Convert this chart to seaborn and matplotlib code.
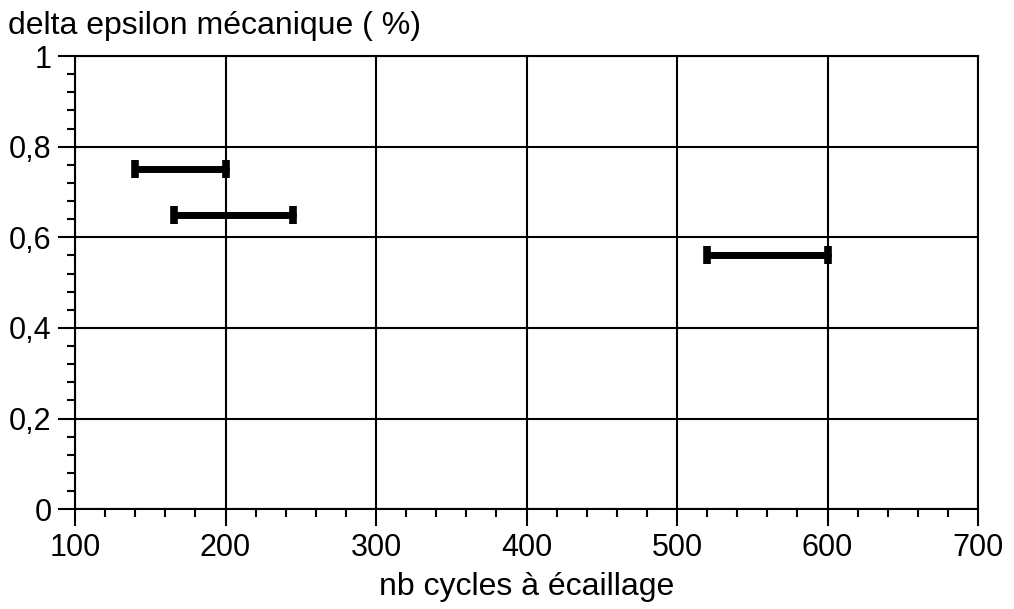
import numpy as np
import pandas as pd
import matplotlib
matplotlib.use("Agg")
import matplotlib.pyplot as plt
import seaborn as sns
from matplotlib.ticker import MultipleLocator, FuncFormatter

# data: start / end of cycles to spalling, delta epsilon (%)
essais = ["A", "B", "C"]
cycles_min = [140, 166, 520]
cycles_max = [200, 245, 600]
delta_eps = [0.75, 0.65, 0.56]

df = pd.DataFrame({
    "essai": essais * 2,
    "cycles": cycles_min + cycles_max,
    "delta": delta_eps * 2,
})

sns.set_style("white")
plt.rcParams["font.family"] = ["Liberation Sans", "DejaVu Sans"]
plt.rcParams["text.color"] = "black"
plt.rcParams["axes.labelcolor"] = "black"
plt.rcParams["xtick.color"] = "black"
plt.rcParams["ytick.color"] = "black"

fig = plt.figure(figsize=(10.14, 6.09), dpi=100)
ax = fig.add_axes([0.074, 0.164, 0.8905, 0.744])

# interval bars
sns.lineplot(data=df, x="cycles", y="delta", units="essai", estimator=None,
             color="black", linewidth=5, ax=ax, zorder=3)
# end caps
sns.scatterplot(data=df, x="cycles", y="delta", marker="|", s=150,
                color="black", linewidth=5.5, ax=ax, zorder=4)

ax.set_xlim(100, 700)
ax.set_ylim(0, 1)
ax.xaxis.set_major_locator(MultipleLocator(100))
ax.xaxis.set_minor_locator(MultipleLocator(20))
ax.yaxis.set_major_locator(MultipleLocator(0.2))
ax.yaxis.set_minor_locator(MultipleLocator(0.04))


def fmt_virgule(v, pos):
    if abs(v - round(v)) < 1e-9:
        return str(int(round(v)))
    return f"{v:.1f}".replace(".", ",")


ax.yaxis.set_major_formatter(FuncFormatter(fmt_virgule))

ax.grid(True, which="major", color="black", linewidth=1.5)
ax.tick_params(which="major", direction="out", length=12, width=1.5,
               color="black", labelcolor="black", labelsize=22, pad=5,
               bottom=True, left=True)
ax.tick_params(which="minor", direction="out", length=6, width=1.5,
               color="black", bottom=True, left=True)
for sp in ax.spines.values():
    sp.set_color("black")
    sp.set_linewidth(1.5)

ax.set_xlabel("nb cycles à écaillage", fontsize=23, labelpad=7, color="black")
ax.set_ylabel("")
fig.text(0.008, 0.982, "delta epsilon mécanique ( %)", fontsize=23,
         ha="left", va="top", color="black")

plt.savefig("out.png", dpi=100)
